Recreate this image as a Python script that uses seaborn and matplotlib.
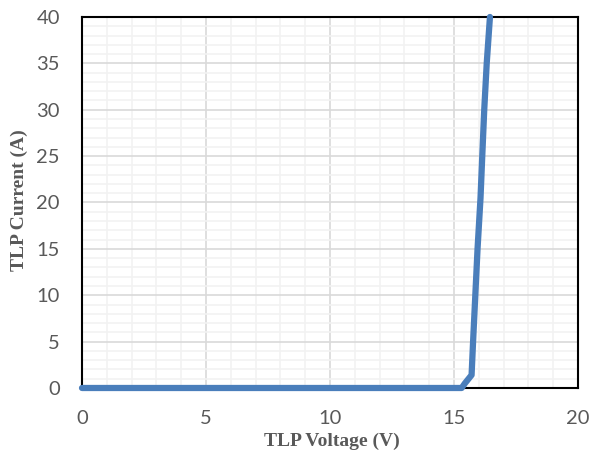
import matplotlib
matplotlib.use("Agg")
import matplotlib.pyplot as plt
import seaborn as sns
import pandas as pd
from matplotlib.ticker import MultipleLocator

voltage = [0.0, 15.31, 15.44, 15.71, 15.77, 15.86, 15.95, 16.07, 16.14, 16.22, 16.32, 16.45]
current = [0.0, 0.0, 0.5, 1.4, 5.0, 10.0, 15.0, 20.5, 25.0, 30.0, 35.0, 40.0]

df = pd.DataFrame({"TLP Voltage (V)": voltage, "TLP Current (A)": current})

sns.set_style("white")
fig = plt.figure(figsize=(5.95, 4.59), dpi=100)
ax = fig.add_axes([0.1378, 0.1547, 0.8336, 0.8083])

ax.xaxis.set_major_locator(MultipleLocator(5))
ax.xaxis.set_minor_locator(MultipleLocator(1))
ax.yaxis.set_major_locator(MultipleLocator(5))
ax.yaxis.set_minor_locator(MultipleLocator(1))
ax.grid(which="minor", color="#f2f2f2", linewidth=1.2, linestyle="-", zorder=0)
ax.grid(which="major", color="#d9d9d9", linewidth=1.2, linestyle="-", zorder=0)
ax.set_axisbelow(True)

sns.lineplot(data=df, x="TLP Voltage (V)", y="TLP Current (A)", ax=ax,
             color="#4a7ebb", linewidth=4.5, sort=False, estimator=None, zorder=3,
             clip_on=False)

ax.set_xlim(0, 20)
ax.set_ylim(0, 40)
for s in ax.spines.values():
    s.set_visible(True)
    s.set_color("black")
    s.set_linewidth(1.5)

ax.tick_params(which="both", length=0, labelsize=14.5, labelcolor="#595959", pad=16)
for lab in ax.get_xticklabels() + ax.get_yticklabels():
    lab.set_family("Lato")

ax.set_xlabel("TLP Voltage (V)", fontfamily="Liberation Serif", fontweight="bold",
              fontsize=14, color="#595959")
ax.set_ylabel("TLP Current (A)", fontfamily="Liberation Serif", fontweight="bold",
              fontsize=14, color="#595959")
ax.xaxis.set_label_coords(0.504, -0.12)
ax.yaxis.set_label_coords(-0.108, 0.507)

fig.savefig("out.png", dpi=100)
